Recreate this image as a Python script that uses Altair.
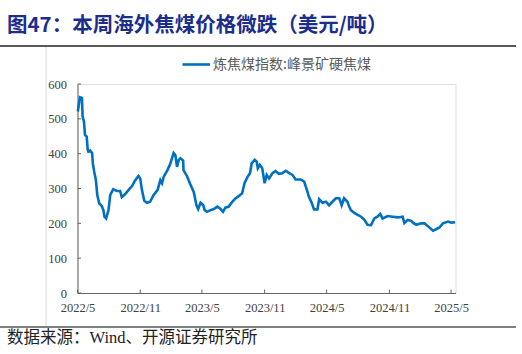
import altair as alt
import pandas as pd

dates = [
    "2022-05-02", "2022-05-08", "2022-05-14", "2022-05-16", "2022-05-20", "2022-05-23",
    "2022-05-28", "2022-05-31", "2022-06-02", "2022-06-07", "2022-06-13", "2022-06-15",
    "2022-06-19", "2022-06-24", "2022-06-28", "2022-07-04", "2022-07-11", "2022-07-16",
    "2022-07-19", "2022-07-24", "2022-07-31", "2022-08-05", "2022-08-10", "2022-08-14",
    "2022-08-24", "2022-09-03", "2022-09-08", "2022-09-18", "2022-09-28", "2022-10-08",
    "2022-10-17", "2022-10-27", "2022-11-01", "2022-11-06", "2022-11-13", "2022-11-21",
    "2022-11-30", "2022-12-10", "2022-12-22", "2022-12-30", "2023-01-04", "2023-01-09",
    "2023-01-20", "2023-01-28", "2023-02-07", "2023-02-12", "2023-02-17", "2023-02-22",
    "2023-02-27", "2023-03-07", "2023-03-08", "2023-03-18", "2023-03-28", "2023-04-07",
    "2023-04-15", "2023-04-20", "2023-04-27", "2023-05-05", "2023-05-09", "2023-05-16",
    "2023-05-26", "2023-06-05", "2023-06-15", "2023-06-25", "2023-07-02", "2023-07-09",
    "2023-07-19", "2023-07-29", "2023-08-08", "2023-08-17", "2023-08-27", "2023-09-03",
    "2023-09-11", "2023-09-19", "2023-09-24", "2023-10-03", "2023-10-09", "2023-10-12",
    "2023-10-18", "2023-10-25", "2023-11-01", "2023-11-07", "2023-11-14", "2023-11-24",
    "2023-12-03", "2023-12-13", "2023-12-23", "2024-01-02", "2024-01-12", "2024-01-22",
    "2024-01-31", "2024-02-15", "2024-02-25", "2024-03-04", "2024-03-10", "2024-03-18",
    "2024-03-25", "2024-04-04", "2024-04-09", "2024-04-19", "2024-04-29", "2024-05-08",
    "2024-05-18", "2024-05-28", "2024-06-07", "2024-06-14", "2024-06-21", "2024-07-01",
    "2024-07-06", "2024-07-11", "2024-07-21", "2024-07-31", "2024-08-10", "2024-08-19",
    "2024-08-29", "2024-09-08", "2024-09-18", "2024-09-28", "2024-10-05", "2024-10-12",
    "2024-10-27", "2024-11-11", "2024-11-26", "2024-12-10", "2024-12-15", "2024-12-25",
    "2025-01-04", "2025-01-09", "2025-01-19", "2025-02-02", "2025-02-12", "2025-02-22",
    "2025-03-09", "2025-03-18", "2025-03-28", "2025-04-07", "2025-04-22", "2025-05-02",
    "2025-05-13",
]
values = [
    521, 562, 560, 507, 492, 454,
    449, 411, 406, 409, 401, 372,
    348, 324, 281, 257, 250, 238,
    219, 214, 238, 281, 291, 298,
    293, 293, 275, 284, 296, 307,
    323, 336, 329, 296, 265, 259,
    262, 281, 296, 324, 315, 334,
    353, 370, 402, 396, 362, 382,
    387, 380, 353, 336, 312, 290,
    252, 241, 259, 252, 238, 233,
    238, 241, 248, 241, 233, 245,
    248, 262, 272, 278, 286, 315,
    332, 344, 372, 382, 377, 358,
    368, 358, 315, 339, 329, 344,
    350, 342, 344, 351, 344, 339,
    326, 326, 320, 296, 276, 259,
    240, 240, 269, 259, 262, 252,
    262, 272, 272, 252, 272, 262,
    248, 238, 230, 224, 219, 211,
    196, 195, 214, 220, 227, 214,
    221, 219, 217, 219, 201, 210,
    207, 202, 196, 200, 200, 192,
    179, 183, 188, 200, 205, 202,
    203,
]

series_name = "炼焦煤指数:峰景矿硬焦煤"
title_text = "图47：本周海外焦煤价格微跌（美元/吨）"
source_text = "数据来源：Wind、开源证券研究所"
y_ticks = [0, 100, 200, 300, 400, 500, 600]
x_tick_months = [(2022, 5), (2022, 11), (2023, 5), (2023, 11), (2024, 5), (2024, 11), (2025, 5)]

W, H = 378, 209

df = pd.DataFrame({"date": pd.to_datetime(dates), "value": values})
xt = pd.DataFrame({"date": pd.to_datetime([f"{y}-{m:02d}-01" for y, m in x_tick_months])})
yt = pd.DataFrame({"v": y_ticks})

xscale = alt.Scale(domain=[alt.DateTime(year=2022, month=5, date=1),
                           alt.DateTime(year=2025, month=5, date=14)])
yscale = alt.Scale(domain=[0, 600], nice=False)

serif = "Liberation Serif"
cjk = "Noto Sans CJK SC"

xaxis = alt.Axis(values=[alt.DateTime(year=y, month=m, date=1) for y, m in x_tick_months],
                 format="%Y/%-m", ticks=False, grid=False, domainColor="#666666",
                 labelFont=serif, labelFontSize=12.5, labelColor="#404040",
                 labelPadding=8, labelAngle=0, labelFlush=False,
                 labelOverlap=False, labelBound=False)
yaxis = alt.Axis(values=y_ticks, ticks=False, grid=False, domainColor="#666666",
                 labelFont=serif, labelFontSize=12.5, labelColor="#404040",
                 labelPadding=11, labelOverlap=False, labelFlush=False,
                 labelBound=False)

line = alt.Chart(df).mark_line(color="#0070C0", strokeWidth=2.6).encode(
    x=alt.X("date:T", scale=xscale, title=None, axis=xaxis),
    y=alt.Y("value:Q", scale=yscale, title=None, axis=yaxis),
)

xticks = alt.Chart(xt).mark_rule(color="#666666", strokeWidth=1).encode(
    x=alt.X("date:T", scale=xscale, title=None, axis=xaxis),
    y=alt.value(H), y2=alt.value(H - 3.5))
yticks = alt.Chart(yt).mark_rule(color="#666666", strokeWidth=1).encode(
    y=alt.Y("v:Q", scale=yscale, title=None, axis=yaxis),
    x=alt.value(0), x2=alt.value(3.5))

one = pd.DataFrame({"t": [title_text], "s": [source_text], "n": [series_name]})

title = alt.Chart(one).mark_text(align="left", baseline="middle", font=cjk, fontSize=20.5,
                                 fontWeight="bold", color="#1c2d8c").encode(
    text="t:N", x=alt.value(-70.5), y=alt.value(-58))
source = alt.Chart(one).mark_text(align="left", baseline="middle", font=f"{serif}, {cjk}",
                                  fontSize=16.5, color="#222222").encode(
    text="s:N", x=alt.value(-70.5), y=alt.value(254))
legend_text = alt.Chart(one).mark_text(align="left", baseline="middle", font=cjk,
                                       fontSize=14, color="#595959").encode(
    text="n:N", x=alt.value(135.5), y=alt.value(-19.5))
legend_line = alt.Chart(one).mark_rule(color="#0070C0", strokeWidth=2.6).encode(
    x=alt.value(105), x2=alt.value(132.5), y=alt.value(-19.5))

top_rule = alt.Chart(one).mark_rule(color="#222222", strokeWidth=1.5).encode(
    x=alt.value(-77.5), x2=alt.value(438.5), y=alt.value(-38))
bottom_rule = alt.Chart(one).mark_rule(color="#808080", strokeWidth=2).encode(
    x=alt.value(-77.5), x2=alt.value(438.5), y=alt.value(243))
left_rule = alt.Chart(one).mark_rule(color="#d9d9d9", strokeWidth=1).encode(
    x=alt.value(-31.5), y=alt.value(-37), y2=alt.value(242))

chart = alt.layer(
    left_rule, top_rule, bottom_rule, line, xticks, yticks,
    title, source, legend_line, legend_text,
).properties(
    width=W, height=H,
    padding={"left": 77.5, "top": 84, "right": 66.5, "bottom": 61},
    autosize="none",
).configure_view(stroke=None).configure(background="white")

chart.save("out.html", embed_options={"renderer": "svg", "actions": False})
